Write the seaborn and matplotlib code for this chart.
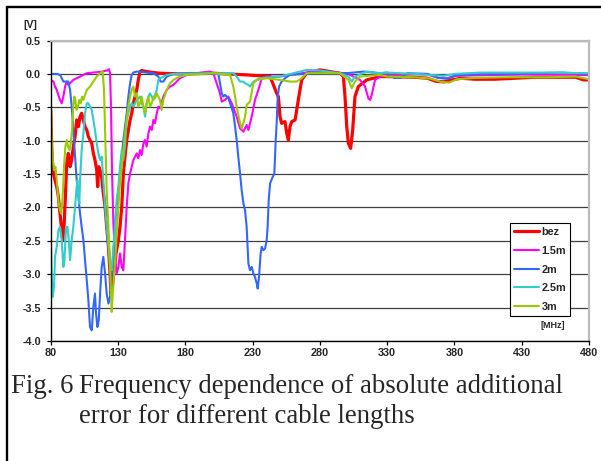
import matplotlib
matplotlib.use("Agg")
import matplotlib.pyplot as plt
from matplotlib.lines import Line2D
import pandas as pd
import seaborn as sns

# ---------------- data (frequency [MHz], error [V]) ----------------
series_names = ["bez", "1.5m", "2m", "2.5m", "3m"]
series_colors = ["#FF0000", "#FF00FF", "#3366FF", "#33CCCC", "#99CC00"]

bez = [(80.0, -0.55), (81.0, -1.24), (82.0, -1.49), (83.2, -1.59), (84.5, -1.69), (85.7, -1.84),
       (86.9, -2.09), (88.2, -2.34), (88.9, -2.49), (89.9, -2.29), (90.9, -1.84), (91.9, -1.34),
       (93.1, -1.19), (94.4, -1.39), (95.6, -1.29), (96.8, -1.09), (98.1, -0.94), (99.3, -0.69),
       (100.6, -0.79), (101.8, -0.64), (103.0, -0.59), (104.3, -0.69), (105.5, -0.79), (106.8, -0.84),
       (108.0, -0.94), (109.2, -0.99), (110.5, -1.04), (111.7, -1.19), (112.9, -1.29), (114.2, -1.44),
       (114.9, -1.69), (115.7, -1.39), (116.7, -1.44), (117.9, -1.54), (119.1, -1.79), (120.4, -1.99),
       (121.6, -2.29), (122.9, -2.59), (124.1, -2.99), (124.8, -3.29), (125.8, -3.19), (127.1, -2.94),
       (128.5, -2.69), (130.3, -2.49), (131.5, -2.29), (132.8, -1.99), (134.0, -1.49), (135.2, -1.24),
       (136.5, -0.99), (137.7, -0.84), (139.0, -0.69), (140.2, -0.59), (141.4, -0.44), (142.7, -0.34),
       (143.9, -0.24), (145.1, -0.09), (146.4, 0.035), (147.6, 0.05), (151.3, 0.035), (156.3, 0.02),
       (161.2, 0.01), (176.0, 0.0), (200.9, 0.01), (225.6, -0.015), (243.0, -0.04), (245.5, -0.165),
       (247.9, -0.29), (249.2, -0.34), (250.4, -0.64), (251.6, -0.74), (254.1, -0.715), (255.4, -0.89),
       (256.6, -0.99), (257.8, -0.79), (259.1, -0.715), (261.6, -0.69), (264.0, -0.39), (266.5, -0.09),
       (270.2, 0.01), (280.1, 0.06), (295.0, 0.01), (297.5, -0.04), (298.7, -0.34), (300.0, -0.79),
       (301.2, -1.04), (302.9, -1.115), (304.4, -0.84), (306.1, -0.34), (308.6, -0.19), (314.8, -0.09),
       (324.7, -0.04), (330, -0.04), (350, -0.05), (360, -0.065), (366, -0.11), (372, -0.12),
       (378, -0.09), (385, -0.065), (395, -0.08), (410, -0.08), (440, -0.05), (470, -0.05),
       (476, -0.09), (480, -0.09)]

m15 = [(80.0, -0.09), (82.0, -0.115), (83.2, -0.19), (84.5, -0.24), (85.7, -0.315), (86.9, -0.39),
       (88.2, -0.44), (89.4, -0.34), (90.7, -0.19), (91.9, -0.115), (93.1, -0.165), (94.4, -0.14),
       (95.6, -0.115), (96.8, -0.09), (99.3, -0.065), (101.8, -0.04), (104.3, -0.015), (106.8, 0.01),
       (111.7, 0.02), (116.7, 0.03), (121.6, 0.05), (123.3, 0.07), (124.1, 0.01), (124.8, -0.49),
       (125.6, -1.49), (126.6, -2.24), (127.8, -2.74), (129.0, -2.99), (130.3, -2.89), (131.5, -2.69),
       (132.8, -2.89), (134.0, -2.94), (135.2, -2.49), (136.5, -1.99), (137.7, -1.64), (139.0, -1.49),
       (140.2, -1.39), (141.4, -1.29), (142.7, -1.24), (143.9, -1.19), (145.1, -1.265), (146.4, -1.14),
       (147.6, -1.215), (148.9, -1.04), (150.1, -0.99), (151.3, -1.09), (152.6, -0.89), (153.8, -0.79),
       (155.1, -0.84), (156.3, -0.69), (157.5, -0.74), (158.8, -0.59), (160.0, -0.49), (161.2, -0.515),
       (163.7, -0.34), (166.2, -0.24), (168.7, -0.19), (171.2, -0.165), (173.6, -0.115), (176.1, -0.065),
       (181.1, -0.015), (188.5, 0.01), (198.4, 0.035), (200.9, 0.01), (203.3, -0.14), (205.8, -0.29),
       (207.1, -0.415), (209.5, -0.39), (212.0, -0.34), (214.5, -0.44), (218.2, -0.64), (220.7, -0.815),
       (223.2, -0.865), (225.6, -0.765), (226.9, -0.84), (228.1, -0.74), (229.4, -0.64), (231.8, -0.39),
       (234.3, -0.24), (236.8, -0.065), (240.5, -0.04), (250.4, -0.04), (257.8, -0.015), (275.2, 0.035),
       (300.0, 0.01), (304.9, -0.04), (309.9, -0.09), (313.6, -0.19), (316.0, -0.365), (317.5, -0.39),
       (318.8, -0.29), (321.0, -0.09), (324.7, -0.04), (330, -0.01), (345, 0.0), (360, -0.01),
       (368, -0.06), (374, -0.07), (380, -0.03), (400, -0.02), (430, -0.01), (460, -0.01), (480, -0.02)]

m2 = [(80.0, 0.0), (84.5, 0.0), (86.9, -0.015), (88.2, -0.065), (89.4, -0.115), (91.4, -0.115),
      (93.1, -0.115), (94.4, -0.24), (95.6, -0.49), (96.8, -0.84), (98.1, -1.24), (99.3, -1.59),
      (100.6, -1.84), (101.8, -2.09), (103.0, -2.29), (104.3, -2.49), (105.5, -2.79), (106.8, -3.09),
      (108.0, -3.39), (109.2, -3.79), (110.5, -3.84), (111.7, -3.49), (112.9, -3.29), (113.7, -3.59),
      (114.7, -3.79), (115.7, -3.69), (116.7, -3.29), (117.9, -2.89), (119.1, -2.74), (120.4, -2.99),
      (121.6, -3.29), (122.9, -3.44), (124.1, -3.34), (125.3, -2.99), (126.6, -2.69), (127.8, -2.29),
      (129.0, -1.99), (130.3, -1.74), (131.5, -1.49), (132.8, -1.24), (134.0, -0.99), (135.2, -0.79),
      (136.5, -0.59), (137.7, -0.34), (139.0, -0.14), (140.2, -0.015), (141.4, 0.02), (143.9, 0.035),
      (151.3, 0.02), (156.3, 0.01), (160.0, -0.04), (161.7, -0.115), (163.7, -0.115), (166.2, -0.04),
      (171.2, 0.0), (200.9, 0.01), (204.6, 0.0), (205.8, -0.14), (207.1, -0.29), (208.3, -0.34),
      (209.5, -0.315), (210.8, -0.34), (212.0, -0.365), (213.3, -0.44), (215.7, -0.59), (217.0, -0.79),
      (218.2, -0.99), (219.4, -1.24), (220.7, -1.49), (221.9, -1.74), (223.2, -1.94), (224.4, -2.04),
      (225.6, -2.29), (226.9, -2.84), (228.1, -2.94), (229.4, -2.89), (230.6, -2.99), (231.8, -3.04),
      (233.1, -3.14), (233.8, -3.215), (234.8, -3.04), (236.0, -2.69), (236.8, -2.59), (238.0, -2.64),
      (239.3, -2.615), (240.5, -2.49), (241.2, -2.29), (242.0, -1.89), (243.0, -1.64), (245.0, -1.54),
      (246.2, -1.49), (247.2, -0.99), (247.9, -0.74), (248.7, -0.34), (249.7, -0.19), (251.6, -0.115),
      (254.1, -0.065), (257.8, -0.015), (275.2, 0.01), (300.0, 0.01), (312.3, 0.035), (324.7, 0.01),
      (330, 0.02), (335, -0.06), (340, -0.06), (345, 0.01), (360, 0.0), (368, -0.06), (375, -0.07),
      (382, -0.02), (400, 0.0), (420, 0.0), (440, 0.01), (460, 0.02), (480, 0.0)]

m25 = [(80.0, -2.34), (80.7, -2.99), (81.5, -3.34), (82.5, -3.19), (83.2, -2.74), (84.5, -2.59),
       (85.7, -2.34), (86.9, -2.29), (88.2, -2.49), (89.4, -2.89), (90.2, -2.79), (91.4, -2.29),
       (92.4, -2.29), (93.4, -2.49), (94.4, -2.79), (95.6, -2.49), (96.8, -2.29), (98.1, -1.99),
       (99.3, -1.69), (99.8, -1.59), (100.6, -1.84), (101.3, -1.94), (101.8, -1.59), (103.0, -1.14),
       (104.3, -0.89), (105.5, -0.59), (106.8, -0.44), (108.0, -0.44), (109.2, -0.49), (110.5, -0.54),
       (111.7, -0.69), (112.9, -0.84), (114.2, -1.04), (115.4, -1.19), (116.7, -1.29), (117.9, -1.24),
       (119.1, -1.59), (120.4, -1.99), (121.6, -2.29), (122.9, -2.59), (124.1, -2.89), (125.3, -2.94),
       (126.6, -2.59), (127.8, -2.29), (129.0, -1.89), (130.3, -1.69), (131.5, -1.39), (132.8, -1.14),
       (134.0, -1.29), (135.2, -1.09), (136.5, -0.69), (137.7, -0.59), (139.0, -0.49), (140.2, -0.44),
       (141.4, -0.49), (143.9, -0.39), (146.4, -0.34), (147.6, -0.44), (148.9, -0.49), (150.1, -0.64),
       (151.3, -0.44), (152.6, -0.34), (153.8, -0.29), (156.3, -0.39), (158.8, -0.24), (160.0, -0.09),
       (161.2, -0.065), (163.7, -0.04), (166.2, -0.015), (171.2, 0.0), (200.9, 0.01), (215.7, 0.01),
       (218.2, -0.04), (220.7, -0.115), (223.2, -0.115), (224.4, -0.14), (226.9, -0.165), (228.1, -0.19),
       (230.6, -0.115), (235.5, -0.065), (250.4, -0.04), (260.3, 0.01), (270.2, 0.06), (280.1, 0.05),
       (295.0, 0.01), (301.2, -0.04), (303.7, -0.115), (306.1, -0.04), (314.8, 0.035), (324.7, 0.01),
       (330, 0.02), (350, 0.0), (365, -0.02), (372, -0.03), (380, 0.0), (400, 0.02), (420, 0.02),
       (450, 0.02), (480, 0.01)]

m3 = [(80.0, -0.04), (80.25, -0.49), (80.7, -0.99), (81.5, -1.29), (82.5, -1.44), (83.5, -1.39),
      (84.5, -1.59), (85.7, -1.89), (86.9, -2.04), (87.9, -2.09), (88.9, -1.84), (89.9, -1.39),
      (90.9, -1.09), (91.9, -0.99), (92.9, -1.09), (93.9, -1.14), (94.9, -1.04), (95.9, -0.84),
      (96.8, -0.49), (97.6, -0.34), (98.3, -0.39), (99.3, -0.54), (100.3, -0.49), (101.3, -0.39),
      (102.3, -0.44), (103.3, -0.34), (104.3, -0.39), (105.5, -0.315), (106.8, -0.24), (109.2, -0.19),
      (111.7, -0.115), (114.2, -0.04), (116.7, 0.01), (118.6, 0.035), (119.6, -0.24), (120.6, -0.99),
      (121.6, -1.74), (122.9, -2.29), (124.1, -2.89), (125.3, -3.565), (126.1, -3.29), (127.1, -2.99),
      (128.1, -2.74), (129.0, -2.39), (130.3, -1.99), (131.5, -1.64), (132.8, -1.39), (134.0, -1.14),
      (135.2, -0.89), (136.5, -0.69), (137.7, -0.49), (139.0, -0.34), (140.2, -0.24), (141.4, -0.19),
      (142.7, -0.34), (143.9, -0.29), (145.1, -0.49), (146.4, -0.44), (147.6, -0.34), (148.9, -0.49),
      (150.1, -0.59), (151.3, -0.44), (152.6, -0.34), (153.8, -0.49), (155.1, -0.44), (156.3, -0.34),
      (157.5, -0.365), (158.8, -0.29), (160.0, -0.34), (161.2, -0.39), (162.5, -0.54), (163.7, -0.39),
      (166.2, -0.24), (168.7, -0.14), (171.2, -0.09), (176.1, -0.04), (181.1, -0.015), (200.9, 0.01),
      (213.3, -0.015), (215.7, -0.19), (218.2, -0.49), (220.7, -0.74), (221.9, -0.815), (223.2, -0.74),
      (224.4, -0.64), (225.6, -0.465), (228.1, -0.415), (230.6, -0.14), (233.1, -0.09), (240.5, -0.065),
      (250.4, -0.09), (257.8, -0.115), (262.8, -0.115), (266.5, -0.065), (270.2, 0.01), (295.0, 0.01),
      (301.2, -0.09), (303.7, -0.215), (306.1, -0.115), (309.9, -0.04), (324.7, -0.015), (330, -0.04),
      (350, -0.05), (362, -0.07), (370, -0.12), (376, -0.13), (382, -0.08), (395, -0.06), (420, -0.05),
      (450, -0.05), (470, -0.04), (480, -0.08)]

series_points = [bez, m15, m2, m25, m3]
series_widths = [2.3, 1.5, 1.5, 1.5, 1.5]

x_ticks = [80, 130, 180, 230, 280, 330, 380, 430, 480]
x_tick_labels = ["80", "130", "180", "230", "280", "330", "380", "430", "480"]
y_ticks = [0.5, 0.0, -0.5, -1.0, -1.5, -2.0, -2.5, -3.0, -3.5, -4.0]
y_tick_labels = ["0.5", "0.0", "-0.5", "-1.0", "-1.5", "-2.0", "-2.5", "-3.0", "-3.5", "-4.0"]

# ---------------- figure ----------------
sns.set_theme(style="white")
plt.rcParams["font.family"] = ["Liberation Sans", "DejaVu Sans"]

W, H = 601, 461
fig = plt.figure(figsize=(W / 100, H / 100), dpi=100)
fig.patch.set_facecolor("white")
ax_l, ax_r, ax_t, ax_b = 50.7, 589.0, 40.5, 341.0
ax = fig.add_axes([ax_l / W, 1 - ax_b / H, (ax_r - ax_l) / W, (ax_b - ax_t) / H])
ax.set_facecolor("white")

for name, pts, col, lw in zip(series_names, series_points, series_colors, series_widths):
    df = pd.DataFrame(pts, columns=["freq", "err"])
    sns.lineplot(data=df, x="freq", y="err", ax=ax, color=col, lw=lw, label=name,
                 sort=False, estimator=None)

ax.set_xlim(80, 480)
ax.set_ylim(-4.0, 0.5)
ax.set_xticks(x_ticks)
ax.set_xticklabels(x_tick_labels)
ax.set_yticks(y_ticks)
ax.set_yticklabels(y_tick_labels)
ax.set_xlabel("")
ax.set_ylabel("")

ax.yaxis.grid(True, color="#404040", lw=0.9)
ax.xaxis.grid(False)
ax.set_axisbelow(True)

ax.tick_params(axis="both", which="major", direction="out", length=3, width=0.9,
               color="black", labelsize=7.8, bottom=True, left=True)
ax.tick_params(axis="y", pad=4)
ax.tick_params(axis="x", pad=2)
for lab in ax.get_xticklabels() + ax.get_yticklabels():
    lab.set_fontweight("bold")

for s in ["left", "bottom"]:
    ax.spines[s].set_color("black")
    ax.spines[s].set_linewidth(1.0)
for s in ["top", "right"]:
    ax.spines[s].set_color("#BBBBBB")
    ax.spines[s].set_linewidth(1.6)

leg = ax.legend(loc="upper left", bbox_to_anchor=((510 - ax_l) / (ax_r - ax_l), (ax_b - 223.5) / (ax_b - ax_t)),
                borderaxespad=0, frameon=True, fancybox=False, framealpha=1,
                edgecolor="black", prop={"weight": "bold", "size": 7.8},
                handlelength=2.3, handletextpad=0.25, labelspacing=0.8, borderpad=0.35)
leg.get_frame().set_linewidth(0.8)

fig.text(30 / W, 1 - 25 / H, "[V]", ha="center", va="center", fontsize=7.5, fontweight="bold")
fig.text(553 / W, 1 - 326 / H, "[MHz]", ha="center", va="center", fontsize=6.5, fontweight="bold")

serif = ["Liberation Serif", "DejaVu Serif"]
fig.text(11 / W, 1 - 393 / H, "Fig. 6", ha="left", va="baseline", fontsize=19.3, family=serif)
fig.text(79 / W, 1 - 393 / H, "Frequency dependence of absolute additional", ha="left",
         va="baseline", fontsize=19.3, family=serif)
fig.text(79 / W, 1 - 423 / H, "error for different cable lengths", ha="left",
         va="baseline", fontsize=19.3, family=serif)

# outer frame (top and left edges visible)
fig.add_artist(Line2D([7 / W, 7 / W], [0, 1 - 7 / H], transform=fig.transFigure, color="black", lw=1.7))
fig.add_artist(Line2D([7 / W, 1], [1 - 7 / H, 1 - 7 / H], transform=fig.transFigure, color="black", lw=1.7))

fig.savefig("out.png", dpi=100, facecolor="white")
